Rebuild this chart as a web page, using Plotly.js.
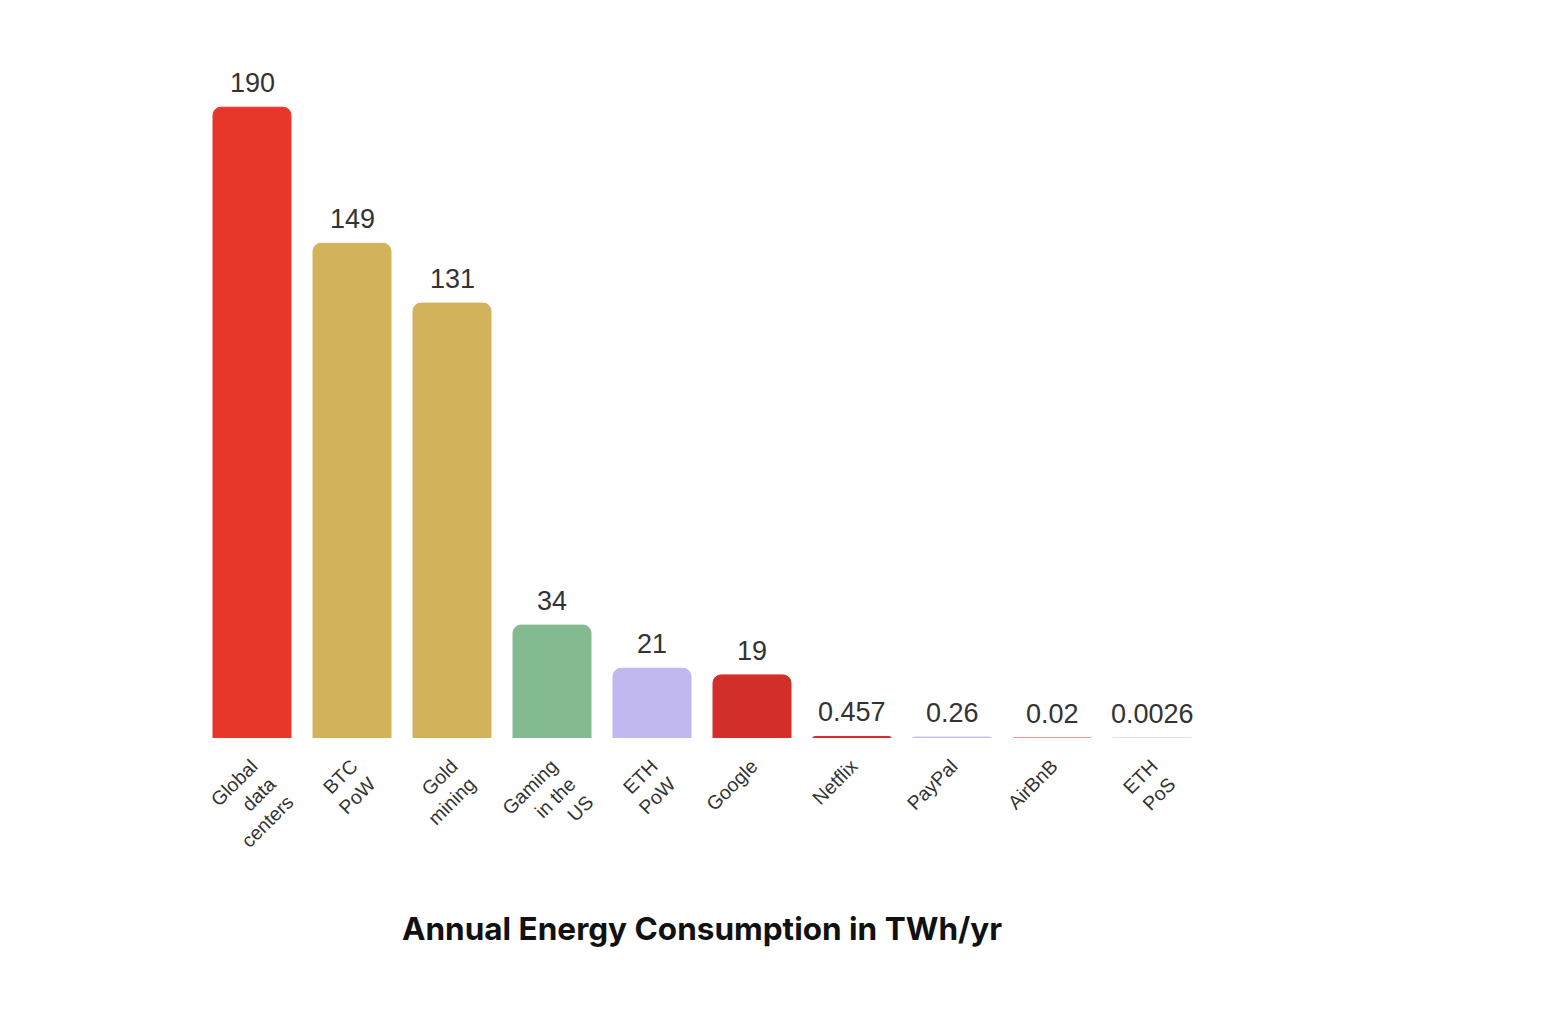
<!DOCTYPE html>
<html>
<head>
<meta charset="utf-8">
<script src="https://cdn.plot.ly/plotly-3.0.1.min.js"></script>
<style>html,body{margin:0;padding:0;background:#fff;}#chart{width:1546px;height:1014px;}</style>
</head>
<body>
<div id="chart"></div>
<script>
const categories = ["Global<br>data<br>centers", "BTC<br>PoW", "Gold<br>mining", "Gaming<br>in the<br>US", "ETH<br>PoW", "Google", "Netflix", "PayPal", "AirBnB", "ETH<br>PoS"];
const values = [190, 149, 131, 34, 21, 19, 0.457, 0.26, 0.02, 0.0026];
const valueLabels = ["190", "149", "131", "34", "21", "19", "0.457", "0.26", "0.02", "0.0026"];
const colors = ["#E9362A", "#D2B35C", "#D2B35C", "#84BA8F", "#C0B7EF", "#D32F2A", "#D32F2A", "#C0B7EF", "#EE7E75", "#D9D2F7"];
const titleText = "Annual Energy Consumption in TWh/yr";

const trace = {
  type: "bar",
  x: categories,
  y: values,
  cliponaxis: false,
  width: 0.78,
  marker: {color: colors, cornerradius: 8, line: {color: colors, width: 1}},
  hoverinfo: "none"
};

const annotations = categories.map((c, i) => ({
  x: c, y: values[i], xref: "x", yref: "y",
  text: valueLabels[i], showarrow: false,
  xanchor: "center", yanchor: "bottom", yshift: 7,
  font: {family: "Liberation Sans, Arial, sans-serif", size: 27, color: "#333333"}
}));

const layout = {
  width: 1546,
  height: 1014,
  paper_bgcolor: "#ffffff",
  plot_bgcolor: "#ffffff",
  margin: {l: 202, r: 344, t: 74, b: 276},
  showlegend: false,
  annotations: annotations,
  xaxis: {
    type: "category",
    tickangle: -45,
    ticklabelstandoff: 12,
    tickfont: {family: "Liberation Sans, Arial, sans-serif", size: 19.5, color: "#333333"},
    showgrid: false, zeroline: false, showline: false, ticks: "",
    title: {text: titleText, font: {family: "Inter, sans-serif", size: 31.5, color: "#111111", weight: "bold"}, standoff: 64}
  },
  yaxis: {range: [0, 200], visible: false, showgrid: false, zeroline: false}
};

Plotly.newPlot("chart", [trace], layout, {displayModeBar: false, staticPlot: true});
</script>
</body>
</html>
